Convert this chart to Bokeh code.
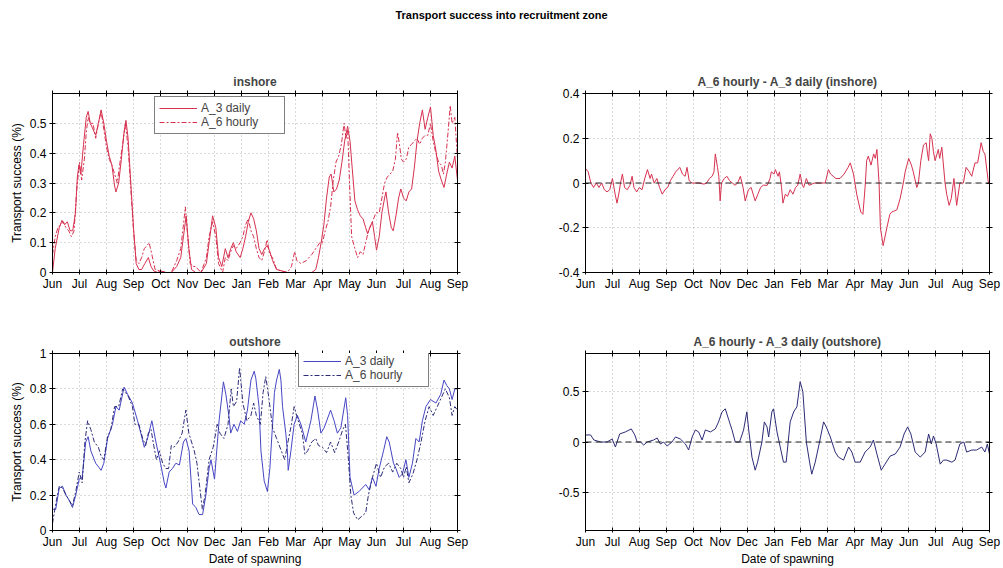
from bokeh.plotting import figure
from bokeh.layouts import column, row
from bokeh.models import (Range1d, FixedTicker, LinearAxis, Legend, LegendItem,
                          Div, Span)
from bokeh.embed import file_html
from bokeh.resources import INLINE

# ---- data (x = months since 1 June, y = transport success) ----
months = ["Jun", "Jul", "Aug", "Sep", "Oct", "Nov", "Dec", "Jan",
          "Feb", "Mar", "Apr", "May", "Jun", "Jul", "Aug", "Sep"]

in_daily_x = [0, 0.1, 0.25, 0.35, 0.45, 0.55, 0.65, 0.75, 0.85, 0.92, 0.98, 1.05, 1.15, 1.25, 1.32, 1.4, 1.5, 1.6, 1.7, 1.8, 1.9, 2.0, 2.1, 2.2, 2.3, 2.35, 2.45, 2.55, 2.65, 2.72, 2.8, 2.9, 3.0, 3.1, 3.2, 3.3, 3.42, 3.55, 3.65, 3.75, 3.9, 4.0, 4.2, 4.4, 4.6, 4.75, 4.85, 4.95, 5.05, 5.15, 5.3, 5.5, 5.7, 5.8, 5.93, 6.05, 6.15, 6.27, 6.4, 6.5, 6.6, 6.7, 6.8, 6.95, 7.05, 7.15, 7.25, 7.35, 7.45, 7.55, 7.65, 7.75, 7.85, 7.95, 8.05, 8.15, 8.3, 8.5, 8.7, 9.0, 9.3, 9.6, 9.75, 9.85, 9.95, 10.05, 10.15, 10.25, 10.32, 10.42, 10.52, 10.62, 10.72, 10.82, 10.93, 11.02, 11.1, 11.2, 11.3, 11.4, 11.5, 11.6, 11.67, 11.75, 11.85, 11.93, 12.0, 12.1, 12.2, 12.3, 12.35, 12.45, 12.55, 12.62, 12.72, 12.82, 12.9, 13.0, 13.1, 13.2, 13.3, 13.4, 13.5, 13.6, 13.7, 13.8, 13.9, 14.0, 14.1, 14.2, 14.3, 14.4, 14.5, 14.6, 14.7, 14.8, 14.9, 15.0]
in_daily_y = [0.0, 0.08, 0.15, 0.175, 0.16, 0.17, 0.14, 0.14, 0.2, 0.32, 0.36, 0.33, 0.43, 0.52, 0.54, 0.5, 0.48, 0.46, 0.5, 0.545, 0.5, 0.44, 0.39, 0.36, 0.29, 0.27, 0.3, 0.38, 0.47, 0.51, 0.45, 0.3, 0.15, 0.03, 0.01, 0.01, 0.03, 0.05, 0.02, 0.005, 0.0, 0.005, 0.0, 0.0, 0.02, 0.05, 0.12, 0.19, 0.08, 0.01, 0.0, 0.0, 0.03, 0.1, 0.19, 0.15, 0.05, 0.02, 0.08, 0.05, 0.08, 0.1, 0.07, 0.05, 0.08, 0.12, 0.17, 0.2, 0.18, 0.14, 0.08, 0.06, 0.08, 0.09, 0.07, 0.04, 0.01, 0.005, 0.0, 0.0, 0.0, 0.0, 0.01, 0.05, 0.1, 0.16, 0.25, 0.32, 0.33, 0.27, 0.28, 0.31, 0.37, 0.44, 0.49, 0.44, 0.35, 0.24, 0.21, 0.19, 0.18, 0.15, 0.13, 0.15, 0.17, 0.12, 0.075, 0.12, 0.2, 0.25, 0.27, 0.2, 0.15, 0.14, 0.19, 0.25, 0.28, 0.25, 0.24, 0.27, 0.28, 0.35, 0.44, 0.5, 0.545, 0.48, 0.52, 0.555, 0.46, 0.41, 0.34, 0.31, 0.285, 0.33, 0.37, 0.35, 0.39, 0.31]

in_hourly_x = [0, 0.1, 0.2, 0.3, 0.4, 0.5, 0.6, 0.7, 0.8, 0.9, 1.0, 1.08, 1.18, 1.25, 1.32, 1.4, 1.5, 1.6, 1.7, 1.8, 1.9, 2.0, 2.1, 2.2, 2.3, 2.4, 2.5, 2.6, 2.7, 2.8, 2.9, 3.0, 3.1, 3.2, 3.3, 3.4, 3.5, 3.58, 3.68, 3.8, 4.0, 4.2, 4.4, 4.6, 4.75, 4.85, 4.92, 5.0, 5.1, 5.2, 5.3, 5.5, 5.7, 5.8, 5.93, 6.05, 6.15, 6.3, 6.4, 6.5, 6.6, 6.7, 6.8, 6.95, 7.05, 7.15, 7.25, 7.35, 7.45, 7.55, 7.65, 7.75, 7.85, 7.95, 8.05, 8.15, 8.3, 8.5, 8.7, 8.85, 8.97, 9.05, 9.2, 9.4, 9.6, 9.75, 9.9, 10.0, 10.1, 10.2, 10.3, 10.4, 10.5, 10.6, 10.7, 10.8, 10.87, 10.93, 11.0, 11.08, 11.2, 11.3, 11.4, 11.5, 11.6, 11.7, 11.85, 11.98, 12.1, 12.2, 12.3, 12.4, 12.5, 12.6, 12.7, 12.78, 12.85, 12.92, 13.0, 13.1, 13.2, 13.3, 13.4, 13.5, 13.6, 13.7, 13.8, 13.9, 14.0, 14.1, 14.2, 14.3, 14.4, 14.48, 14.55, 14.65, 14.73, 14.8, 14.9, 15.0]
in_hourly_y = [0.06, 0.12, 0.15, 0.16, 0.17, 0.15, 0.14, 0.12, 0.14, 0.28, 0.37, 0.31, 0.38, 0.47, 0.52, 0.5, 0.5, 0.45, 0.5, 0.54, 0.48, 0.42, 0.38, 0.36, 0.33, 0.3, 0.37, 0.43, 0.5, 0.42, 0.28, 0.14, 0.04, 0.03, 0.05, 0.08, 0.09, 0.1, 0.06, 0.01, 0.005, 0.0, 0.0, 0.04, 0.08, 0.16, 0.22, 0.13, 0.03, 0.02, 0.02, 0.0, 0.05, 0.12, 0.17, 0.12, 0.03, 0.0, 0.05, 0.04, 0.07, 0.09, 0.08, 0.1, 0.12, 0.16, 0.18, 0.14, 0.12, 0.08, 0.05, 0.04, 0.07, 0.11, 0.06, 0.05, 0.01, 0.005, 0.0, 0.02, 0.07, 0.04, 0.03, 0.04, 0.06, 0.08, 0.1, 0.1, 0.14, 0.17, 0.22, 0.31, 0.37, 0.39, 0.43, 0.5, 0.45, 0.48, 0.3, 0.12, 0.08, 0.05, 0.07, 0.06, 0.1, 0.14, 0.17, 0.2, 0.2, 0.25, 0.3, 0.32, 0.33, 0.34, 0.38, 0.47, 0.43, 0.38, 0.37, 0.38, 0.42, 0.43, 0.44, 0.45, 0.43, 0.45, 0.46, 0.46, 0.5, 0.44, 0.4, 0.37, 0.36, 0.33, 0.37, 0.47, 0.56, 0.5, 0.52, 0.38]

in_diff_x = [0, 0.1, 0.2, 0.3, 0.4, 0.5, 0.6, 0.7, 0.8, 0.9, 1.0, 1.1, 1.17, 1.25, 1.3, 1.37, 1.45, 1.55, 1.65, 1.73, 1.8, 1.9, 2.0, 2.1, 2.2, 2.3, 2.4, 2.45, 2.55, 2.65, 2.75, 2.85, 2.95, 3.05, 3.15, 3.25, 3.35, 3.5, 3.6, 3.7, 3.77, 3.85, 3.95, 4.2, 4.4, 4.5, 4.6, 4.7, 4.77, 4.82, 4.9, 4.95, 5.0, 5.05, 5.15, 5.25, 5.35, 5.45, 5.55, 5.65, 5.75, 5.85, 5.93, 6.05, 6.15, 6.3, 6.4, 6.5, 6.6, 6.75, 6.85, 6.9, 7.0, 7.05, 7.15, 7.2, 7.28, 7.33, 7.42, 7.5, 7.6, 7.7, 7.8, 7.88, 7.97, 8.05, 8.1, 8.2, 8.3, 8.5, 8.7, 8.9, 9.02, 9.1, 9.2, 9.3, 9.45, 9.6, 9.75, 9.83, 9.95, 10.07, 10.22, 10.3, 10.38, 10.44, 10.5, 10.6, 10.7, 10.76, 10.82, 10.9, 10.95, 11.05, 11.19, 11.3, 11.37, 11.56, 11.68, 11.8, 11.87, 12.0, 12.1, 12.17, 12.3, 12.36, 12.45, 12.55, 12.65, 12.7, 12.74, 12.8, 12.86, 12.92, 12.98, 13.1, 13.15, 13.23, 13.35, 13.41, 13.5, 13.58, 13.68, 13.78, 13.9, 14.03, 14.13, 14.25, 14.34, 14.46, 14.56, 14.69, 14.77, 14.83, 14.96, 15.0]
in_diff_y = [0.065, 0.05, 0.0, -0.02, 0.0, -0.02, 0.0, -0.03, -0.04, -0.03, 0.02, -0.05, -0.09, -0.04, 0.0, 0.04, -0.02, -0.03, -0.01, 0.03, -0.02, -0.04, -0.02, -0.03, 0.02, 0.06, 0.02, 0.04, 0.0, 0.02, -0.02, -0.05, -0.03, -0.02, 0.01, 0.03, 0.05, 0.07, 0.04, 0.03, 0.07, 0.01, 0.0, 0.0, -0.005, 0.0, 0.02, 0.03, 0.05, 0.13, 0.07, 0.03, -0.08, 0.0, 0.02, 0.03, 0.01, 0.0, -0.01, 0.0, 0.03, -0.02, -0.08, -0.03, -0.02, -0.08, -0.05, -0.02, -0.01, -0.01, 0.02, 0.05, 0.04, 0.06, 0.03, 0.05, -0.02, -0.09, -0.05, -0.06, -0.03, -0.05, -0.02, -0.01, 0.04, -0.01, -0.02, 0.02, -0.01, 0.0, 0.0, 0.0, 0.06, 0.04, 0.03, 0.02, 0.02, 0.04, 0.07, 0.09, 0.04, -0.05, -0.13, -0.14, -0.02, 0.1, 0.12, 0.08, 0.13, 0.11, 0.15, 0.0, -0.2, -0.28, -0.2, -0.14, -0.13, -0.12, -0.07, 0.0, 0.05, 0.11, 0.08, 0.05, -0.02, 0.0, 0.1, 0.17, 0.18, 0.13, 0.1, 0.22, 0.2, 0.14, 0.1, 0.15, 0.11, 0.16, 0.0, -0.05, -0.1, -0.07, 0.02, -0.1, 0.0, 0.0, 0.07, 0.05, 0.03, 0.09, 0.09, 0.18, 0.14, 0.13, 0.0, 0.0]

out_daily_x = [0, 0.12, 0.25, 0.37, 0.5, 0.62, 0.74, 0.86, 0.99, 1.1, 1.23, 1.32, 1.42, 1.6, 1.8, 1.9, 2.04, 2.22, 2.35, 2.47, 2.65, 2.78, 2.96, 3.15, 3.27, 3.4, 3.52, 3.68, 3.83, 4.0, 4.14, 4.2, 4.32, 4.44, 4.57, 4.7, 4.85, 4.94, 5.06, 5.19, 5.31, 5.43, 5.56, 5.68, 5.8, 5.87, 6.0, 6.17, 6.33, 6.42, 6.54, 6.6, 6.72, 6.85, 6.97, 7.1, 7.22, 7.35, 7.47, 7.53, 7.65, 7.72, 7.84, 7.96, 8.05, 8.15, 8.22, 8.3, 8.4, 8.46, 8.52, 8.64, 8.7, 8.73, 8.83, 8.95, 9.07, 9.2, 9.38, 9.57, 9.72, 9.82, 9.94, 10.06, 10.3, 10.43, 10.55, 10.68, 10.86, 10.93, 11.02, 11.17, 11.35, 11.6, 11.73, 11.85, 11.98, 12.1, 12.26, 12.38, 12.47, 12.63, 12.72, 12.84, 12.96, 13.09, 13.2, 13.33, 13.46, 13.58, 13.7, 13.83, 14.0, 14.2, 14.38, 14.5, 14.6, 14.7, 14.8, 14.9, 15.0]
out_daily_y = [0.12, 0.12, 0.24, 0.25, 0.2, 0.17, 0.13, 0.2, 0.29, 0.3, 0.5, 0.53, 0.45, 0.38, 0.34, 0.38, 0.52, 0.6, 0.7, 0.68, 0.81, 0.77, 0.72, 0.62, 0.55, 0.47, 0.52, 0.62, 0.5, 0.38, 0.27, 0.24, 0.33, 0.35, 0.38, 0.37, 0.5, 0.52, 0.45, 0.15, 0.13, 0.09, 0.09, 0.2, 0.35, 0.4, 0.29, 0.62, 0.84, 0.77, 0.64, 0.55, 0.6, 0.56, 0.62, 0.6, 0.68, 0.85, 0.9, 0.86, 0.7, 0.45, 0.28, 0.22, 0.35, 0.6, 0.78, 0.85, 0.91, 0.85, 0.7, 0.55, 0.45, 0.34, 0.45, 0.6, 0.65, 0.6, 0.5, 0.62, 0.76, 0.68, 0.55, 0.58, 0.68, 0.62, 0.55, 0.58, 0.75, 0.65, 0.3, 0.2, 0.22, 0.26, 0.23, 0.3, 0.25, 0.35, 0.45, 0.53, 0.5, 0.38, 0.35, 0.3, 0.32, 0.4, 0.3, 0.38, 0.52, 0.5, 0.62, 0.7, 0.74, 0.72, 0.77, 0.85, 0.82, 0.8, 0.74, 0.8, 0.8]

out_hourly_x = [0, 0.12, 0.25, 0.37, 0.5, 0.62, 0.74, 0.86, 0.99, 1.1, 1.2, 1.3, 1.42, 1.55, 1.7, 1.8, 1.9, 2.04, 2.16, 2.3, 2.45, 2.6, 2.7, 2.8, 2.96, 3.05, 3.2, 3.34, 3.45, 3.55, 3.65, 3.75, 3.85, 3.96, 4.08, 4.2, 4.3, 4.4, 4.5, 4.65, 4.8, 4.94, 5.05, 5.15, 5.25, 5.35, 5.45, 5.55, 5.65, 5.8, 5.95, 6.1, 6.2, 6.35, 6.5, 6.62, 6.7, 6.82, 6.93, 7.05, 7.2, 7.35, 7.45, 7.55, 7.7, 7.8, 7.9, 8.02, 8.15, 8.3, 8.45, 8.6, 8.72, 8.85, 8.95, 9.1, 9.25, 9.35, 9.45, 9.6, 9.75, 9.85, 10.0, 10.15, 10.3, 10.45, 10.6, 10.75, 10.85, 10.95, 11.05, 11.15, 11.3, 11.45, 11.6, 11.7, 11.85, 12.0, 12.15, 12.3, 12.45, 12.6, 12.75, 12.9, 13.0, 13.1, 13.2, 13.35, 13.5, 13.65, 13.8, 13.95, 14.1, 14.25, 14.4, 14.55, 14.7, 14.8, 14.9, 15.0]
out_hourly_y = [0.04, 0.15, 0.25, 0.24, 0.2, 0.17, 0.14, 0.22, 0.33, 0.27, 0.5, 0.62, 0.57, 0.5, 0.47, 0.42, 0.4, 0.53, 0.57, 0.7, 0.7, 0.8, 0.78, 0.76, 0.7, 0.6, 0.6, 0.52, 0.48, 0.55, 0.57, 0.48, 0.4, 0.45, 0.38, 0.35, 0.35, 0.48, 0.47, 0.5, 0.55, 0.68, 0.55, 0.5, 0.45, 0.38, 0.25, 0.12, 0.2, 0.4, 0.47, 0.6, 0.55, 0.52, 0.6, 0.8, 0.7, 0.73, 0.92, 0.72, 0.62, 0.65, 0.72, 0.65, 0.6, 0.78, 0.87, 0.74, 0.58, 0.52, 0.46, 0.4, 0.5, 0.6, 0.7, 0.62, 0.55, 0.43, 0.45, 0.5, 0.52, 0.48, 0.47, 0.44, 0.5, 0.44, 0.5, 0.57, 0.6, 0.42, 0.2, 0.1, 0.06, 0.08, 0.1, 0.2, 0.3, 0.38, 0.3, 0.36, 0.38, 0.33, 0.38, 0.35, 0.3, 0.36, 0.27, 0.32, 0.4, 0.5, 0.62, 0.7, 0.65, 0.7, 0.75, 0.8, 0.75, 0.65, 0.7, 0.68]

out_diff_x = [0, 0.19, 0.31, 0.56, 0.8, 0.99, 1.11, 1.27, 1.48, 1.7, 1.83, 1.92, 2.04, 2.16, 2.29, 2.53, 2.66, 2.78, 2.9, 3.03, 3.21, 3.34, 3.52, 3.71, 3.83, 3.96, 4.08, 4.2, 4.33, 4.45, 4.64, 4.82, 4.94, 5.07, 5.19, 5.32, 5.44, 5.56, 5.72, 5.87, 5.99, 6.06, 6.18, 6.3, 6.39, 6.55, 6.64, 6.74, 6.8, 6.92, 6.98, 7.11, 7.23, 7.35, 7.45, 7.6, 7.73, 7.85, 7.97, 8.07, 8.2, 8.32, 8.4, 8.53, 8.69, 8.84, 8.94, 9.09, 9.27, 9.39, 9.58, 9.77, 9.89, 10.01, 10.2, 10.38, 10.57, 10.69, 10.82, 10.98, 11.12, 11.31, 11.5, 11.68, 11.83, 11.96, 12.08, 12.24, 12.43, 12.61, 12.74, 12.84, 12.92, 13.02, 13.17, 13.29, 13.41, 13.6, 13.72, 13.9, 14.05, 14.15, 14.34, 14.52, 14.71, 14.83, 14.92, 15.0]
out_diff_y = [0.07, 0.07, 0.02, 0.0, 0.0, 0.03, -0.05, 0.08, 0.1, 0.13, 0.07, 0.0, 0.0, -0.03, 0.0, 0.02, 0.04, -0.02, 0.0, -0.04, 0.0, 0.05, 0.03, -0.02, -0.08, 0.05, 0.12, 0.1, 0.02, 0.12, 0.1, 0.13, 0.2, 0.3, 0.33, 0.22, 0.12, 0.0, 0.0, 0.12, 0.3, 0.12, -0.15, -0.28, -0.2, 0.0, 0.2, 0.15, 0.05, 0.3, 0.33, 0.1, -0.05, -0.2, -0.2, 0.2, 0.3, 0.35, 0.6, 0.5, 0.0, -0.2, -0.32, -0.2, 0.0, 0.2, 0.15, 0.05, -0.1, -0.15, -0.18, -0.05, -0.1, -0.2, -0.2, -0.1, -0.05, 0.02, -0.12, -0.28, -0.22, -0.14, -0.12, -0.05, 0.08, 0.15, 0.08, -0.1, -0.15, -0.1, 0.08, -0.02, 0.06, -0.02, -0.22, -0.18, -0.18, -0.2, -0.18, -0.02, 0.0, -0.1, -0.08, -0.08, -0.05, -0.1, -0.02, -0.12]

RED = "#d6314f"
BLUE = "#4646c4"
NAVY = "#2c2c78"
FONT = "Liberation Sans"


def edge_axis(ticker):
    # unlabelled axis that only draws tick marks on the box edge
    return LinearAxis(ticker=ticker,
                      major_label_overrides={t: "" for t in ticker.ticks},
                      major_label_text_font_size="1px",
                      major_tick_in=3, major_tick_out=3,
                      minor_tick_line_color=None, axis_line_color="black",
                      major_label_standoff=0)


def make_panel(title, w, h, left, right, top, bottom, y0, y1, yticks,
               ylabel=None, xlabel=None):
    p = figure(width=w, height=h, output_backend="svg", toolbar_location=None,
               x_range=Range1d(0, 15), y_range=Range1d(y0, y1),
               min_border_left=left, min_border_right=right,
               min_border_top=top, min_border_bottom=bottom,
               background_fill_color="white", border_fill_color="white")
    p.title.text = title
    p.title.align = "center"
    p.title.text_font = FONT
    p.title.text_font_size = "12px"
    p.title.text_font_style = "bold"
    p.title.standoff = 3
    p.outline_line_color = "black"
    p.outline_line_width = 1

    xt = FixedTicker(ticks=list(range(16)))
    yt = FixedTicker(ticks=yticks)
    ax = p.xaxis[0]
    ax.ticker = xt
    ax.major_label_overrides = {i: m for i, m in enumerate(months)}
    ay = p.yaxis[0]
    ay.ticker = yt
    ay.major_label_overrides = {v: (f"{v:g}") for v in yticks}
    for a in (ax, ay):
        a.major_label_text_font = FONT
        a.major_label_text_font_size = "12px"
        a.major_label_text_color = "black"
        a.axis_line_color = "black"
        a.major_tick_line_color = "black"
        a.major_tick_in = 3
        a.major_tick_out = 3
        a.minor_tick_line_color = None
        a.major_label_standoff = 3
        a.axis_label_text_font = FONT
        a.axis_label_text_font_size = "12px"
        a.axis_label_text_font_style = "normal"
        a.axis_label_text_color = "black"
        a.axis_label_standoff = 3
    ax.major_tick_out = 2
    ax.major_label_standoff = 2
    ax.axis_label_standoff = 0
    if ylabel:
        ay.axis_label = ylabel
    if xlabel:
        ax.axis_label = xlabel

    # tick marks on the top and right edges of the box
    p.add_layout(edge_axis(xt), "above")
    p.add_layout(edge_axis(yt), "right")

    p.xgrid.ticker = xt
    p.ygrid.ticker = yt
    for g in (p.xgrid[0], p.ygrid[0]):
        g.grid_line_color = "#b4b4b4"
        g.grid_line_dash = "1 3"
        g.grid_line_width = 1
    return p


def add_legend(p, r1, r2, loc):
    leg = Legend(items=[LegendItem(label="A_3 daily", renderers=[r1]),
                        LegendItem(label="A_6 hourly", renderers=[r2])],
                 location=loc, padding=4, spacing=0, margin=0,
                 glyph_width=38, glyph_height=12, label_height=12,
                 label_width=79, label_standoff=4,
                 label_text_font=FONT, label_text_font_size="12px",
                 border_line_color="black", border_line_width=1,
                 background_fill_alpha=1.0)
    p.add_layout(leg, "center")


# frames: x 52..457 / 585..989, y 93..272 / 353..532
p1 = make_panel("inshore", 520, 270, 52, 63, 63, 28, 0, 0.6,
                [0, 0.1, 0.2, 0.3, 0.4, 0.5], ylabel="Transport success (%)")
r1 = p1.line(in_daily_x, in_daily_y, line_color=RED, line_width=1)
r2 = p1.line(in_hourly_x, in_hourly_y, line_color=RED, line_width=1,
             line_dash="5 2 2 2")
add_legend(p1, r1, r2, (102, 138))

p2 = make_panel("A_6 hourly - A_3 daily (inshore)", 483, 270, 65, 14, 63, 28,
                -0.4, 0.4, [-0.4, -0.2, 0, 0.2, 0.4])
p2.add_layout(Span(location=0, dimension="width", line_color="#222222",
                   line_dash="6 4", line_width=1))
p2.line(in_diff_x, in_diff_y, line_color=RED, line_width=1)

p3 = make_panel("outshore", 520, 268, 52, 63, 53, 36, 0, 1.0,
                [0, 0.2, 0.4, 0.6, 0.8, 1.0], ylabel="Transport success (%)",
                xlabel="Date of spawning")
r3 = p3.line(out_daily_x, out_daily_y, line_color=BLUE, line_width=1)
r4 = p3.line(out_hourly_x, out_hourly_y, line_color=NAVY, line_width=1,
             line_dash="5 2 2 2")
add_legend(p3, r3, r4, (246, 143))

p4 = make_panel("A_6 hourly - A_3 daily (outshore)", 483, 268, 65, 14, 53, 36,
                -0.88, 0.88, [-0.5, 0, 0.5], xlabel="Date of spawning")
p4.add_layout(Span(location=0, dimension="width", line_color="#222222",
                   line_dash="6 4", line_width=1))
p4.line(out_diff_x, out_diff_y, line_color=NAVY, line_width=1)

head = Div(text="Transport success into recruitment zone", width=1003, height=30,
           margin=(0, 0, 0, 0),
           styles={"text-align": "center", "font-family": FONT,
                   "font-weight": "bold", "font-size": "11px",
                   "line-height": "30px", "width": "1003px", "color": "black"})

layout = column(head, row(p1, p2, spacing=0), row(p3, p4, spacing=0), spacing=0)
open("out.html", "w").write(file_html(layout, INLINE))
